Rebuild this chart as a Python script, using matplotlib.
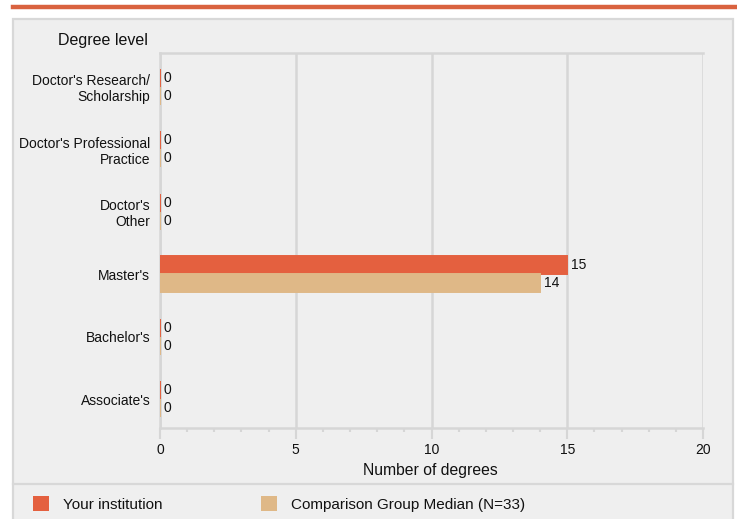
import matplotlib
matplotlib.use("Agg")
import matplotlib.pyplot as plt
from matplotlib.patches import Rectangle
from matplotlib.lines import Line2D
from matplotlib.ticker import MultipleLocator

categories = ["Doctor's Research/\nScholarship", "Doctor's Professional\nPractice",
              "Doctor's\nOther", "Master's", "Bachelor's", "Associate's"]
your_inst = [0, 0, 0, 15, 0, 0]
comparison = [0, 0, 0, 14, 0, 0]
series_names = ["Your institution", "Comparison Group Median (N=33)"]
x_ticks = [0, 5, 10, 15, 20]

C_ORANGE = "#E4603F"
C_TAN = "#DFB887"
C_GRID = "#D6D6D6"
C_PANEL = "#EFEFEF"
C_TOP = "#D9623F"

plt.rcParams['font.family'] = ['Liberation Sans', 'DejaVu Sans']

W, H = 737, 519
fig = plt.figure(figsize=(W / 100, H / 100), dpi=100)
fig.patch.set_facecolor("white")

def fx(px):
    return px / W

def fy(py):
    return 1 - py / H

# top orange rule
fig.add_artist(Line2D([fx(13), fx(737)], [fy(6.5), fy(6.5)], color=C_TOP, lw=3.2,
                      transform=fig.transFigure))
# panel
fig.add_artist(Rectangle((fx(13), fy(521)), fx(733) - fx(13), fy(19) - fy(521),
                         facecolor=C_PANEL, edgecolor="#D8D8D8", lw=1.6,
                         transform=fig.transFigure, zorder=0))
# legend separator
fig.add_artist(Line2D([fx(13), fx(733)], [fy(484), fy(484)], color="#D8D8D8", lw=1.6,
                      transform=fig.transFigure))

left, right, top, bottom = 160, 703, 53, 428
ax = fig.add_axes([fx(left), fy(bottom), fx(right) - fx(left), fy(top) - fy(bottom)])
ax.set_facecolor(C_PANEL)

n = len(categories)
ys = list(range(n))
h = 0.29
y1 = [y - h / 2 for y in ys]
y2 = [y + h / 2 for y in ys]
ax.barh(y1, your_inst, height=h, color=C_ORANGE, edgecolor=C_ORANGE, lw=1.4, zorder=3)
ax.barh(y2, comparison, height=h, color=C_TAN, edgecolor=C_TAN, lw=1.4, zorder=3)

for y, v in zip(y1, your_inst):
    ax.annotate(str(v), (v, y), xytext=(4, 0), textcoords="offset pixels",
                va="center", ha="left", fontsize=10, color="#111111")
for y, v in zip(y2, comparison):
    ax.annotate(str(v), (v, y), xytext=(4, 0), textcoords="offset pixels",
                va="center", ha="left", fontsize=10, color="#111111")

ax.set_xlim(0, 20)
ax.set_ylim(n - 0.54, -0.54)
ax.set_xticks(x_ticks)
ax.xaxis.set_minor_locator(MultipleLocator(1))
ax.set_yticks(ys)
ax.set_yticklabels(categories, fontsize=10, color="#111111", linespacing=1.2)
ax.tick_params(axis="y", length=0, pad=7)
ax.tick_params(axis="x", which="major", length=8, width=1.5, color=C_GRID,
               labelsize=10, labelcolor="#111111", pad=3)
ax.tick_params(axis="x", which="minor", length=3, width=1.5, color=C_GRID)
ax.grid(axis="x", which="major", color=C_GRID, lw=1.8, zorder=1)
ax.set_axisbelow(True)
for s in ["left", "top", "bottom"]:
    ax.spines[s].set_color(C_GRID)
    ax.spines[s].set_linewidth(1.8)
ax.spines["right"].set_visible(False)

fig.text(fx(148), fy(40), "Degree level", ha="right", va="center", fontsize=11.5, color="#111111")
fig.text(fx(430), fy(471), "Number of degrees", ha="center", va="center", fontsize=11.3, color="#111111")

# legend
fig.add_artist(Rectangle((fx(33), fy(511)), fx(49) - fx(33), fy(496) - fy(511),
                         facecolor=C_ORANGE, edgecolor="none", transform=fig.transFigure))
fig.text(fx(63), fy(505), series_names[0], ha="left", va="center", fontsize=11, color="#111111")
fig.add_artist(Rectangle((fx(261), fy(511)), fx(277) - fx(261), fy(496) - fy(511),
                         facecolor=C_TAN, edgecolor="none", transform=fig.transFigure))
fig.text(fx(291), fy(505), series_names[1], ha="left", va="center", fontsize=11, color="#111111")

fig.savefig("out.png", dpi=100)
